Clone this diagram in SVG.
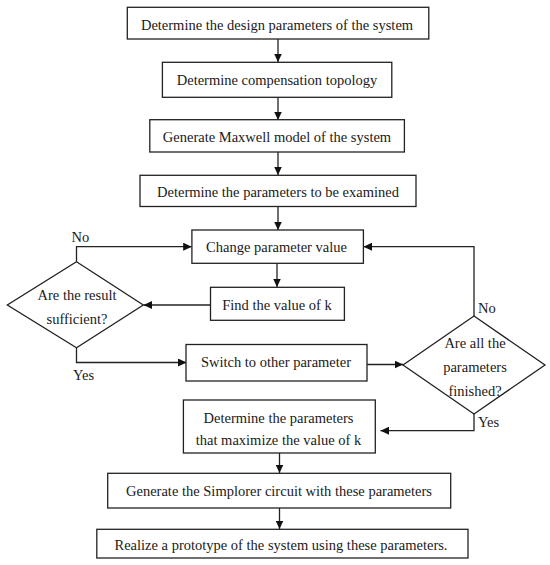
<svg xmlns="http://www.w3.org/2000/svg" width="550" height="565" viewBox="0 0 550 565">
<defs>
<style>
.box{fill:#fff;stroke:#222;stroke-width:1.3}
.t{font-family:"Liberation Serif","Times New Roman",serif;font-size:14.5px;fill:#1a1a1a;text-anchor:middle}
.lbl{font-family:"Liberation Serif","Times New Roman",serif;font-size:14.5px;fill:#1a1a1a;text-anchor:start}
.c{fill:none;stroke:#222;stroke-width:1.3}
</style>
<marker id="ah" markerUnits="userSpaceOnUse" markerWidth="9" markerHeight="8" refX="8.5" refY="4" orient="auto">
<path d="M0,0 L8.5,4 L0,8 z" fill="#111"/>
</marker>
</defs>
<rect width="550" height="565" fill="#fff"/>
<g id="connectors">
<line class="c" x1="278" y1="39" x2="278" y2="62" marker-end="url(#ah)"/>
<line class="c" x1="278" y1="97" x2="278" y2="120" marker-end="url(#ah)"/>
<line class="c" x1="278" y1="152" x2="278" y2="175" marker-end="url(#ah)"/>
<line class="c" x1="278" y1="206" x2="278" y2="230" marker-end="url(#ah)"/>
<line class="c" x1="277" y1="263" x2="277" y2="287" marker-end="url(#ah)"/>
<line class="c" x1="210" y1="305" x2="143.5" y2="305" marker-end="url(#ah)"/>
<polyline class="c" points="76.5,261.7 76.5,246.7 191.7,246.7" marker-end="url(#ah)"/>
<polyline class="c" points="76.5,347.7 76.5,362.5 186.5,362.5" marker-end="url(#ah)"/>
<line class="c" x1="367" y1="364.5" x2="403" y2="364.5" marker-end="url(#ah)"/>
<polyline class="c" points="474,316 474,246.7 363.5,246.7" marker-end="url(#ah)"/>
<polyline class="c" points="474,414 474,430.7 380.5,430.7" marker-end="url(#ah)"/>
<line class="c" x1="279.5" y1="453" x2="279.5" y2="473" marker-end="url(#ah)"/>
<line class="c" x1="279.5" y1="508" x2="279.5" y2="529" marker-end="url(#ah)"/>
</g>
<g id="n1"><rect class="box" x="127.3" y="7.3" width="301.5" height="31.7"/><text class="t" x="277" y="29.5">Determine the design parameters of the system</text></g>
<g id="n2"><rect class="box" x="162.4" y="62.3" width="229.4" height="35"/><text class="t" x="277" y="85">Determine compensation topology</text></g>
<g id="n3"><rect class="box" x="149.8" y="119.7" width="254.6" height="32.3"/><text class="t" x="277" y="141.7">Generate Maxwell model of the system</text></g>
<g id="n4"><rect class="box" x="140" y="175.3" width="276" height="31.2"/><text class="t" x="278" y="197.3">Determine the parameters to be examined</text></g>
<g id="n5"><rect class="box" x="191.9" y="230" width="171.5" height="33.3"/><text class="t" x="276.5" y="251.7">Change parameter value</text></g>
<g id="n6"><rect class="box" x="210.5" y="287.3" width="133.9" height="33"/><text class="t" x="277" y="310">Find the value of k</text></g>
<g id="d1"><polygon class="box" points="76.5,261.7 143.3,305 76.5,347.7 7.3,305"/><text class="t" x="77" y="300">Are the result</text><text class="t" x="77" y="324">sufficient?</text></g>
<g id="n7"><rect class="box" x="186" y="344.5" width="181" height="36.5"/><text class="t" x="276" y="366.7">Switch to other parameter</text></g>
<g id="d2"><polygon class="box" points="474,316 545,365 474,414 403,365"/><text class="t" x="475" y="348">Are all the</text><text class="t" x="475" y="372">parameters</text><text class="t" x="475" y="396">finished?</text></g>
<g id="n8"><rect class="box" x="183.4" y="400" width="191.9" height="53"/><text class="t" x="278.5" y="422.7">Determine the parameters</text><text class="t" x="278.5" y="445.3">that maximize the value of k</text></g>
<g id="n9"><rect class="box" x="107.7" y="473.3" width="343" height="34.7"/><text class="t" x="279" y="495.7">Generate the Simplorer circuit with these parameters</text></g>
<g id="n10"><rect class="box" x="96.8" y="529.3" width="371.2" height="28.7"/><text class="t" x="281" y="550">Realize a prototype of the system using these parameters.</text></g>
<g id="labels">
<text class="lbl" x="71.5" y="241.7">No</text>
<text class="lbl" x="73" y="380">Yes</text>
<text class="lbl" x="478" y="313">No</text>
<text class="lbl" x="478" y="426.7">Yes</text>
</g>
</svg>
